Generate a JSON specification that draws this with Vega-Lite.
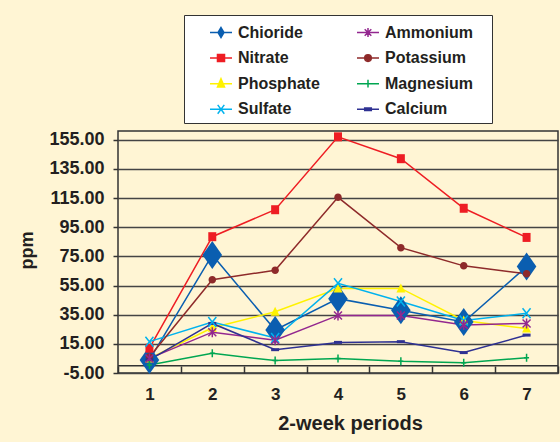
{
  "$schema": "https://vega.github.io/schema/vega-lite/v6.json",
  "width": 440,
  "height": 242,
  "autosize": {"type": "none"},
  "padding": {"left": 118, "top": 131, "right": 2, "bottom": 69},
  "background": "#FFF5D4",
  "config": {
    "font": "Liberation Sans",
    "view": {"fill": "white", "stroke": "#333333", "strokeWidth": 1.5},
    "axisY": {"labelOverlap": false}
  },
  "data": {
    "values": [
      {"p": 1, "series": "Chioride", "v": 4},
      {"p": 2, "series": "Chioride", "v": 76},
      {"p": 3, "series": "Chioride", "v": 24.5},
      {"p": 4, "series": "Chioride", "v": 46},
      {"p": 5, "series": "Chioride", "v": 38},
      {"p": 6, "series": "Chioride", "v": 30},
      {"p": 7, "series": "Chioride", "v": 68},
      {"p": 1, "series": "Nitrate", "v": 12},
      {"p": 2, "series": "Nitrate", "v": 88.5},
      {"p": 3, "series": "Nitrate", "v": 107},
      {"p": 4, "series": "Nitrate", "v": 157},
      {"p": 5, "series": "Nitrate", "v": 142},
      {"p": 6, "series": "Nitrate", "v": 108},
      {"p": 7, "series": "Nitrate", "v": 88},
      {"p": 1, "series": "Phosphate", "v": 5},
      {"p": 2, "series": "Phosphate", "v": 26},
      {"p": 3, "series": "Phosphate", "v": 37},
      {"p": 4, "series": "Phosphate", "v": 53},
      {"p": 5, "series": "Phosphate", "v": 53},
      {"p": 6, "series": "Phosphate", "v": 31},
      {"p": 7, "series": "Phosphate", "v": 25.5},
      {"p": 1, "series": "Sulfate", "v": 16.5},
      {"p": 2, "series": "Sulfate", "v": 30},
      {"p": 3, "series": "Sulfate", "v": 19},
      {"p": 4, "series": "Sulfate", "v": 56.5},
      {"p": 5, "series": "Sulfate", "v": 44},
      {"p": 6, "series": "Sulfate", "v": 31},
      {"p": 7, "series": "Sulfate", "v": 36},
      {"p": 1, "series": "Ammonium", "v": 5},
      {"p": 2, "series": "Ammonium", "v": 23},
      {"p": 3, "series": "Ammonium", "v": 17.5},
      {"p": 4, "series": "Ammonium", "v": 34.5},
      {"p": 5, "series": "Ammonium", "v": 34.5},
      {"p": 6, "series": "Ammonium", "v": 28},
      {"p": 7, "series": "Ammonium", "v": 29},
      {"p": 1, "series": "Potassium", "v": 6},
      {"p": 2, "series": "Potassium", "v": 59},
      {"p": 3, "series": "Potassium", "v": 65.5},
      {"p": 4, "series": "Potassium", "v": 115.5},
      {"p": 5, "series": "Potassium", "v": 81},
      {"p": 6, "series": "Potassium", "v": 68.5},
      {"p": 7, "series": "Potassium", "v": 63},
      {"p": 1, "series": "Magnesium", "v": 0.5},
      {"p": 2, "series": "Magnesium", "v": 8.5},
      {"p": 3, "series": "Magnesium", "v": 3.5},
      {"p": 4, "series": "Magnesium", "v": 5},
      {"p": 5, "series": "Magnesium", "v": 3},
      {"p": 6, "series": "Magnesium", "v": 2},
      {"p": 7, "series": "Magnesium", "v": 5.5},
      {"p": 1, "series": "Calcium", "v": 4},
      {"p": 2, "series": "Calcium", "v": 29},
      {"p": 3, "series": "Calcium", "v": 11},
      {"p": 4, "series": "Calcium", "v": 16},
      {"p": 5, "series": "Calcium", "v": 16.5},
      {"p": 6, "series": "Calcium", "v": 9},
      {"p": 7, "series": "Calcium", "v": 21}
    ]
  },
  "resolve": {"scale": {"shape": "independent", "fill": "independent", "stroke": "independent"}},
  "layer": [
    {
      "data": {"values": [{}]},
      "mark": {"type": "rule", "color": "#333333", "strokeWidth": 1.5},
      "encoding": {
        "y": {
          "datum": 0,
          "type": "quantitative",
          "title": "ppm",
          "axis": {
            "values": [-5, 15, 35, 55, 75, 95, 115, 135, 155],
            "labelExpr": "datum.value < 0 ? '-' + format(-datum.value, '.2f') : format(datum.value, '.2f')",
            "labelOverlap": false,
            "grid": true,
            "gridColor": "#444444",
            "gridWidth": 1.5,
            "domain": false,
            "tickSize": 5,
            "tickColor": "#333333",
            "tickWidth": 1.5,
            "labelFlush": false,
            "labelFontSize": 18,
            "labelFontWeight": "bold",
            "labelColor": "#231F20",
            "labelPadding": 9,
            "titleFontSize": 18,
            "titleFontWeight": "bold",
            "titleColor": "#231F20",
            "titleX": -91,
            "titleY": 119,
            "titleAlign": "center",
            "titleBaseline": "middle",
            "titleAngle": -90
          }
        }
      }
    },
    {
      "encoding": {
        "x": {
          "field": "p",
          "type": "ordinal",
          "scale": {"type": "band", "paddingInner": 0, "paddingOuter": 0},
          "title": "2-week periods",
          "axis": {
            "labelAngle": 0,
            "tickBand": "extent",
            "tickSize": -7,
            "tickColor": "#333333",
            "tickWidth": 1.5,
            "domain": false,
            "grid": false,
            "labelFontSize": 17,
            "labelFontWeight": "bold",
            "labelColor": "#231F20",
            "labelPadding": 20,
            "labelDx": 4,
            "titleFontSize": 20,
            "titleFontWeight": "bold",
            "titleColor": "#231F20",
            "titleX": 232,
            "titleY": 56,
            "titleBaseline": "alphabetic",
            "titleAlign": "center"
          }
        },
        "y": {
          "field": "v",
          "type": "quantitative",
          "scale": {"domain": [-5, 161], "nice": false, "zero": false},
          "title": "ppm",
          "axis": {
            "values": [-5, 15, 35, 55, 75, 95, 115, 135, 155],
            "labelExpr": "datum.value < 0 ? '-' + format(-datum.value, '.2f') : format(datum.value, '.2f')",
            "labelOverlap": false,
            "grid": true,
            "gridColor": "#444444",
            "gridWidth": 1.5,
            "domain": false,
            "tickSize": 5,
            "tickColor": "#333333",
            "tickWidth": 1.5,
            "labelFlush": false,
            "labelFontSize": 18,
            "labelFontWeight": "bold",
            "labelColor": "#231F20",
            "labelPadding": 9,
            "titleFontSize": 18,
            "titleFontWeight": "bold",
            "titleColor": "#231F20",
            "titleX": -91,
            "titleY": 119,
            "titleAlign": "center",
            "titleBaseline": "middle",
            "titleAngle": -90
          }
        },
        "color": {
          "field": "series",
          "type": "nominal",
          "scale": {
            "domain": ["Chioride", "Nitrate", "Phosphate", "Sulfate", "Ammonium", "Potassium", "Magnesium", "Calcium"],
            "range": ["#0A5EB0", "#EE1D23", "#FFF200", "#00B2EE", "#93278F", "#8E2A2A", "#00A651", "#2E3192"]
          },
          "legend": null
        }
      },
      "layer": [
        {
          "mark": {"type": "line", "strokeWidth": 1.5},
          "encoding": {
            "strokeWidth": {"condition": {"test": "datum.series === 'Calcium'", "value": 3}, "value": 1.5}
          }
        },
        {
          "transform": [{"filter": {"field": "series", "oneOf": ["Chioride", "Nitrate", "Potassium", "Phosphate", "Calcium"]}}],
          "mark": {"type": "point", "filled": true, "opacity": 1},
          "encoding": {
            "shape": {
              "field": "series",
              "type": "nominal",
              "scale": {
                "domain": ["Chioride", "Nitrate", "Phosphate", "Sulfate", "Ammonium", "Potassium", "Magnesium", "Calcium"],
                "range": [
                  "M0,-1L0.7,0L0,1L-0.7,0Z",
                  "M-0.8,-0.9L0.8,-0.9L0.8,0.9L-0.8,0.9Z",
                  "M0,-1L0.9,0.8L-0.9,0.8Z",
                  "M-0.8,-1L0.8,1M0.8,-1L-0.8,1",
                  "M-0.8,-0.8L0.8,0.8M0.8,-0.8L-0.8,0.8M0,-1L0,1",
                  "M-0.75,0A0.75,0.75 0 1,0 0.75,0A0.75,0.75 0 1,0 -0.75,0Z",
                  "M0,-0.8L0,0.8M-0.5,0L0.5,0",
                  "M-0.8,-0.3L0.8,-0.3L0.8,0.3L-0.8,0.3Z"
                ]
              },
              "legend": null
            },
            "size": {"condition": {"test": "datum.series === 'Chioride'", "value": 784}, "value": 100}
          }
        },
        {
          "transform": [{"filter": {"field": "series", "oneOf": ["Sulfate", "Ammonium", "Magnesium"]}}],
          "mark": {"type": "point", "filled": false, "strokeWidth": 1.5, "opacity": 1},
          "encoding": {
            "shape": {"field": "series", "type": "nominal", "legend": null},
            "size": {"value": 100}
          }
        }
      ]
    },
    {
      "transform": [{"filter": "datum.v > 1000"}],
      "mark": {"type": "point", "strokeWidth": 1.5, "opacity": 1},
      "encoding": {
        "fill": {
          "field": "series",
          "type": "nominal",
          "scale": {
            "domain": ["Chioride", "Nitrate", "Phosphate", "Sulfate", "Ammonium", "Potassium", "Magnesium", "Calcium"],
            "range": ["#0A5EB0", "#EE1D23", "#FFF200", "#00B2EE", "#93278F", "#8E2A2A", "#00A651", "#2E3192"]
          },
          "legend": {
            "orient": "none", "legendX": 66, "legendY": -116, "columns": 2,
            "title": "\u00a0", "titleOrient": "right", "titlePadding": 13, "titleFontSize": 8,
            "padding": 5.5, "symbolOffset": 19.5, "labelOffset": 5, "rowPadding": 5.6, "columnPadding": 16,
            "symbolSize": 484, "symbolStrokeWidth": 1.5, "symbolOpacity": 1,
            "labelFontSize": 16, "labelFontWeight": "bold", "labelFont": "Liberation Sans", "labelColor": "#231F20",
            "fillColor": "white", "strokeColor": "#333333"
          }
        },
        "stroke": {
          "field": "series",
          "type": "nominal",
          "scale": {
            "domain": ["Chioride", "Nitrate", "Phosphate", "Sulfate", "Ammonium", "Potassium", "Magnesium", "Calcium"],
            "range": ["#0A5EB0", "#EE1D23", "#FFF200", "#00B2EE", "#93278F", "#8E2A2A", "#00A651", "#2E3192"]
          },
          "legend": {
            "orient": "none", "legendX": 66, "legendY": -116, "columns": 2,
            "title": "\u00a0", "titleOrient": "right", "titlePadding": 13, "titleFontSize": 8,
            "padding": 5.5, "symbolOffset": 19.5, "labelOffset": 5, "rowPadding": 5.6, "columnPadding": 16,
            "symbolSize": 484, "symbolStrokeWidth": 1.5, "symbolOpacity": 1,
            "labelFontSize": 16, "labelFontWeight": "bold", "labelFont": "Liberation Sans", "labelColor": "#231F20",
            "fillColor": "white", "strokeColor": "#333333"
          }
        },
        "shape": {
          "field": "series",
          "type": "nominal",
          "scale": {
            "domain": ["Chioride", "Nitrate", "Phosphate", "Sulfate", "Ammonium", "Potassium", "Magnesium", "Calcium"],
            "range": [
              "M-1,0L1,0M0,-0.45L0.27,0L0,0.45L-0.27,0Z",
              "M-1,0L1,0M-0.32,-0.32L0.32,-0.32L0.32,0.32L-0.32,0.32Z",
              "M-1,0L1,0M0,-0.45L0.32,0.3L-0.32,0.3Z",
              "M-1,0L1,0M-0.3,-0.4L0.3,0.4M0.3,-0.4L-0.3,0.4",
              "M-1,0L1,0M-0.3,-0.3L0.3,0.3M0.3,-0.3L-0.3,0.3M0,-0.4L0,0.4",
              "M-1,0L1,0M-0.3,0A0.3,0.3 0 1,0 0.3,0A0.3,0.3 0 1,0 -0.3,0Z",
              "M-1,0L1,0M0,-0.35L0,0.35",
              "M-1,0L1,0M-0.3,-0.12L0.3,-0.12L0.3,0.12L-0.3,0.12Z"
            ]
          },
          "legend": {
            "orient": "none", "legendX": 66, "legendY": -116, "columns": 2,
            "title": "\u00a0", "titleOrient": "right", "titlePadding": 13, "titleFontSize": 8,
            "padding": 5.5, "symbolOffset": 19.5, "labelOffset": 5, "rowPadding": 5.6, "columnPadding": 16,
            "symbolSize": 484, "symbolStrokeWidth": 1.5, "symbolOpacity": 1,
            "labelFontSize": 16, "labelFontWeight": "bold", "labelFont": "Liberation Sans", "labelColor": "#231F20",
            "fillColor": "white", "strokeColor": "#333333",
            "encode": {"legend": {"strokeWidth": {"value": 1.5}}}
          }
        }
      }
    }
  ]
}
